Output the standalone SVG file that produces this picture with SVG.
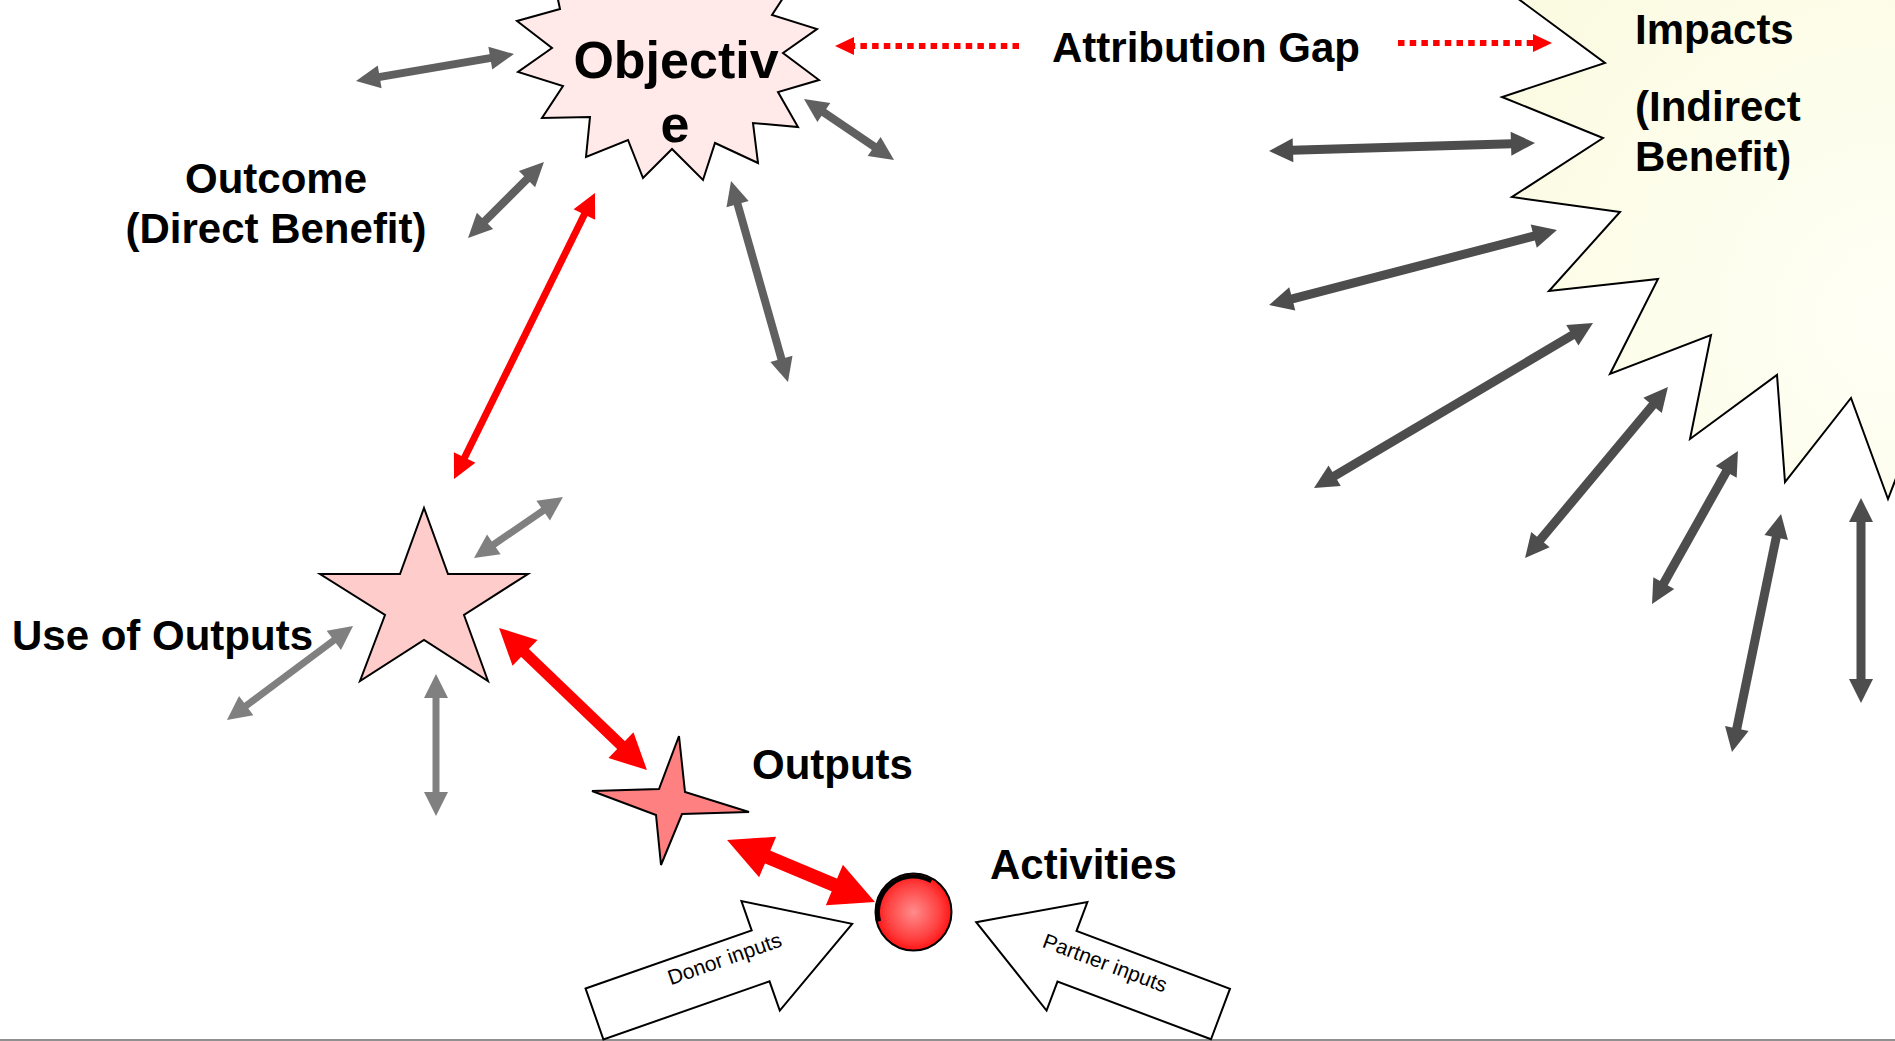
<svg xmlns="http://www.w3.org/2000/svg" width="1895" height="1041" viewBox="0 0 1895 1041">
  <style>
    .lbl { font-family: "Liberation Sans", Arial, sans-serif; font-weight: bold; font-size: 42px; fill: #000; }
    .obj { font-family: "Liberation Sans", Arial, sans-serif; font-weight: bold; font-size: 52px; fill: #000; text-anchor: middle; }
    .inp { font-family: "Liberation Sans", Arial, sans-serif; font-size: 21px; fill: #000; text-anchor: middle; }
    .shape { stroke: #000; stroke-width: 2; stroke-linejoin: miter; }
    .dk { stroke: #4D4D4D; stroke-width: 9; fill: none; marker-start: url(#hDk); marker-end: url(#hDk); }
    .md { stroke: #606060; stroke-width: 8; fill: none; marker-start: url(#hMd); marker-end: url(#hMd); }
    .lt { stroke: #808080; stroke-width: 7; fill: none; marker-start: url(#hLt); marker-end: url(#hLt); }
    .rs { stroke: #FF0000; stroke-width: 7; fill: none; marker-start: url(#hRs); marker-end: url(#hRs); }
    .rm { stroke: #FF0000; stroke-width: 11; fill: none; marker-start: url(#hRm); marker-end: url(#hRm); }
    .rl { stroke: #FF0000; stroke-width: 14; fill: none; marker-start: url(#hRl); marker-end: url(#hRl); }
    .rd { stroke: #FF0000; stroke-width: 6; fill: none; stroke-dasharray: 6.5 5.2; marker-end: url(#hRd); }
  </style>
  <defs>
    <marker id="hDk" markerUnits="userSpaceOnUse" orient="auto-start-reverse" refX="1" refY="0" markerWidth="30" markerHeight="30" overflow="visible">
      <path d="M0,-12 L24,0 L0,12 Z" fill="#4D4D4D"/>
    </marker>
    <marker id="hMd" markerUnits="userSpaceOnUse" orient="auto-start-reverse" refX="1" refY="0" markerWidth="30" markerHeight="30" overflow="visible">
      <path d="M0,-11.5 L24,0 L0,11.5 Z" fill="#606060"/>
    </marker>
    <marker id="hLt" markerUnits="userSpaceOnUse" orient="auto-start-reverse" refX="1" refY="0" markerWidth="30" markerHeight="30" overflow="visible">
      <path d="M0,-12 L24,0 L0,12 Z" fill="#808080"/>
    </marker>
    <marker id="hRs" markerUnits="userSpaceOnUse" orient="auto-start-reverse" refX="1" refY="0" markerWidth="30" markerHeight="30" overflow="visible">
      <path d="M0,-12 L24,0 L0,12 Z" fill="#FF0000"/>
    </marker>
    <marker id="hRm" markerUnits="userSpaceOnUse" orient="auto-start-reverse" refX="1" refY="0" markerWidth="40" markerHeight="40" overflow="visible">
      <path d="M0,-18 L36,0 L0,18 Z" fill="#FF0000"/>
    </marker>
    <marker id="hRl" markerUnits="userSpaceOnUse" orient="auto-start-reverse" refX="1" refY="0" markerWidth="50" markerHeight="50" overflow="visible">
      <path d="M0,-22 L44,0 L0,22 Z" fill="#FF0000"/>
    </marker>
    <marker id="hRd" markerUnits="userSpaceOnUse" orient="auto" refX="1" refY="0" markerWidth="24" markerHeight="24" overflow="visible">
      <path d="M0,-9 L19,0 L0,9 Z" fill="#FF0000"/>
    </marker>
    <radialGradient id="impFill" gradientUnits="userSpaceOnUse" cx="1895" cy="320" r="460">
      <stop offset="0" stop-color="#FFFFF6"/>
      <stop offset="1" stop-color="#FBFBE2"/>
    </radialGradient>
    <radialGradient id="ballFill" cx="0.5" cy="0.5" r="0.5">
      <stop offset="0" stop-color="#FF8C8C"/>
      <stop offset="0.7" stop-color="#FF4040"/>
      <stop offset="1" stop-color="#FF1515"/>
    </radialGradient>
  </defs>

  <!-- frame line along the bottom -->
  <line x1="0" y1="1040" x2="1895" y2="1040" stroke="#909090" stroke-width="2"/>

  <!-- Impacts burst, running off the right edge -->
  <g id="impacts">
    <polygon class="shape" fill="url(#impFill)" points="1513,-5 1605,63 1502,97 1603,138 1512,197 1620,212 1549,291 1658,279 1610,374 1711,335 1690,439 1777,375 1785,482 1851,398 1888,499 1905,455 1905,-5"/>
    <text class="lbl" x="1635" y="44">Impacts</text>
    <text class="lbl" x="1635" y="121">(Indirect</text>
    <text class="lbl" x="1635" y="171">Benefit)</text>
  </g>

  <!-- Objective burst -->
  <g id="objective">
    <polygon class="shape" fill="#FFE9E9" points="557,-5 560,9 517,21 552,48 518,72 563,86 542,118 590,117 586,157 628,140 643,178 672,149 703,180 715,143 758,163 753,123 798,127 778,92 819,80 783,53 817,29 772,15 785,-5"/>
    <text class="obj" x="676" y="78">Objectiv</text>
    <text class="obj" x="675" y="142">e</text>
  </g>

  <g id="attribution-gap">
    <text class="lbl" x="1052" y="62">Attribution Gap</text>
  </g>

  <g id="outcome">
    <text class="lbl" x="276" y="193" text-anchor="middle">Outcome</text>
    <text class="lbl" x="276" y="243" text-anchor="middle">(Direct Benefit)</text>
  </g>

  <!-- Use of Outputs: five-pointed star -->
  <g id="use-of-outputs">
    <polygon class="shape" fill="#FFCCCC" points="424,508 448,574 528,574 464,615 488,681 424,640 360,681 385,615 320,574 400,574"/>
    <text class="lbl" x="12" y="650">Use of Outputs</text>
  </g>

  <!-- Outputs: four-pointed star -->
  <g id="outputs">
    <polygon class="shape" fill="#FF8080" points="679,736 685,792 749,812 682,814 661,865 656,815 592,791 659,789"/>
    <text class="lbl" x="752" y="779">Outputs</text>
  </g>

  <!-- Activities: red ball with a dark rim on its upper left -->
  <g id="activities">
    <ellipse cx="913.5" cy="912" rx="38" ry="38.5" fill="url(#ballFill)" stroke="#000" stroke-width="2"/>
    <path d="M879.2,921.2 A35.5,35.5 0 0 1 931.3,881.3" fill="none" stroke="#000" stroke-width="4"/>
    <text class="lbl" x="990" y="879">Activities</text>
  </g>

  <!-- Donor inputs block arrow -->
  <g id="donor-inputs" transform="translate(594.5,1014) rotate(-19.3)">
    <polygon class="shape" fill="#FFFFFF" points="0,-27 176,-27 176,-58 273,0 176,58 176,27 0,27"/>
    <text class="inp" x="141" y="-2">Donor inputs</text>
  </g>

  <!-- Partner inputs block arrow -->
  <g id="partner-inputs">
    <polygon class="shape" fill="#FFFFFF" transform="translate(1220.5,1014) rotate(200.6)" points="0,-27 164,-27 164,-58 261,0 164,58 164,27 0,27"/>
    <text class="inp" transform="translate(1220.5,1014) rotate(20.6)" x="-126" y="0">Partner inputs</text>
  </g>

  <g id="connectors">
    <!-- attribution gap markers -->
    <line class="rd" x1="1019" y1="46" x2="853" y2="46"/>
    <line class="rd" x1="1398" y1="43" x2="1534" y2="43"/>

    <!-- chain of results -->
    <line class="rs" x1="464.2" y1="458.4" x2="584.8" y2="213.6"/>
    <line class="rm" x1="524.3" y1="652.2" x2="621.7" y2="745.8"/>
    <line class="rl" x1="766.7" y1="856.6" x2="835.3" y2="885.4"/>

    <!-- around the objective -->
    <line class="md" x1="378.7" y1="77.1" x2="491.3" y2="57.9"/>
    <line class="md" x1="823.0" y1="111.9" x2="875.0" y2="147.1"/>
    <line class="md" x1="484.3" y1="221.7" x2="527.7" y2="178.3"/>
    <line class="md" x1="737.3" y1="203.1" x2="781.7" y2="359.9"/>

    <!-- around the use of outputs -->
    <line class="lt" x1="493.0" y1="545.0" x2="544.0" y2="510.0"/>
    <line class="lt" x1="245.4" y1="706.2" x2="334.6" y2="639.8"/>
    <line class="lt" x1="436" y1="697" x2="436" y2="793"/>

    <!-- around the impacts -->
    <line class="dk" x1="1292.0" y1="150.3" x2="1512.0" y2="143.7"/>
    <line class="dk" x1="1291.3" y1="299.2" x2="1534.7" y2="235.8"/>
    <line class="dk" x1="1333.8" y1="476.3" x2="1573.2" y2="334.7"/>
    <line class="dk" x1="1539.8" y1="540.4" x2="1653.2" y2="404.6"/>
    <line class="dk" x1="1663.3" y1="584.0" x2="1726.7" y2="471.0"/>
    <line class="dk" x1="1736.6" y1="729.5" x2="1776.4" y2="536.5"/>
    <line class="dk" x1="1861" y1="521" x2="1861" y2="680"/>
  </g>
</svg>
